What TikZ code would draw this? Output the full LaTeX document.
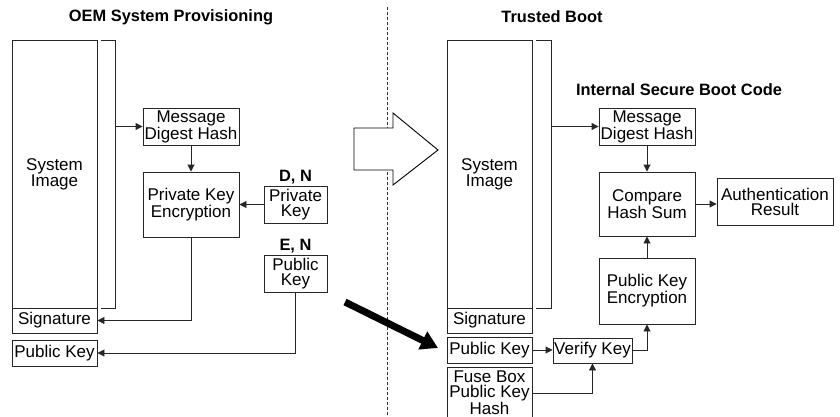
\documentclass[tikz,border=0pt]{standalone}
\usepackage{fontspec}
\setmainfont{Liberation Sans}
\usetikzlibrary{arrows.meta}
\tikzset{
  box/.style={draw=black!85, line width=0.9pt, inner sep=0pt, align=center,
    font=\fontsize{17}{15}\selectfont},
  title/.style={inner sep=0pt, font=\fontsize{16.4}{16}\selectfont\bfseries},
  flow/.style={draw=black!85, line width=0.9pt, -{Triangle[length=7pt,width=7pt]}},
  plain/.style={draw=black!85, line width=0.9pt},
}
\begin{document}
\begin{tikzpicture}[x=1pt, y=-1pt]
\useasboundingbox (0,0) rectangle (840,417);

% divider between the two phases
\draw[black!80, line width=0.8pt, dash pattern=on 3pt off 2pt] (387,7) -- (387,417);

% ---------- OEM system provisioning ----------
\node[title] (titleL) at (171,17) {OEM System Provisioning};
\node[box, minimum width=85pt, minimum height=268pt] (simgL) at (54.5,174) {System\\Image};
\node[box, minimum width=85pt, minimum height=25pt] (sigL) at (54.5,320.5) {Signature};
\node[box, minimum width=85pt, minimum height=26pt] (pkL) at (54.5,353) {Public Key};
\coordinate (brL) at (115,126.5);
\draw[plain] (101,40) -- (115,40) -- (115,308) -- (101,308);
\node[box, minimum width=96pt, minimum height=37pt] (mdhL) at (191,126.5) {Message\\Digest Hash};
\node[box, minimum width=96pt, minimum height=65pt] (pkeL) at (191,204.5) {Private Key\\Encryption};
\node[box, minimum width=63pt, minimum height=37pt] (privL) at (295.5,204.5) {Private\\Key};
\node[title] (dnL) at (295.5,177) {D, N};
\node[box, minimum width=63pt, minimum height=37pt] (pubL) at (295.5,273.5) {Public\\Key};
\node[title] (enL) at (295.5,246) {E, N};

\draw[flow] (brL) -- (mdhL.west);
\draw[flow] (mdhL.south) -- (pkeL.north);
\draw[flow] (privL.west) -- (pkeL.east);
\draw[flow] (pkeL.south) |- (sigL.east);
\draw[flow] (pubL.south) |- (pkL.east);

% hollow transfer arrow
\draw[black, line width=0.9pt, fill=white]
  (354,128) -- (393,128) -- (393,113) -- (438,150) -- (393,185) -- (393,170) -- (354,170) -- cycle;

% public key delivered to the device
\coordinate (kStart) at (345,302);
\coordinate (kEnd) at (438,348);
\draw[black, line width=7pt, -{Triangle[length=17pt,width=19pt]}] (kStart) -- (kEnd);

% ---------- Trusted boot ----------
\node[title] (titleR) at (552,17) {Trusted Boot};
\node[box, minimum width=85pt, minimum height=268pt] (simgR) at (489.5,174) {System\\Image};
\node[box, minimum width=85pt, minimum height=25pt] (sigR) at (489.5,320.5) {Signature};
\node[box, minimum width=85pt, minimum height=26pt] (pkR) at (489.5,350) {Public Key};
\node[box, minimum width=85pt, minimum height=52pt] (fuseR) at (489.5,393) {Fuse Box\\Public Key\\Hash};
\coordinate (brR) at (551,126.5);
\draw[plain] (536,40) -- (551,40) -- (551,308) -- (536,308);

\node[title] (isbc) at (679,90) {Internal Secure Boot Code};
\node[box, minimum width=96pt, minimum height=37pt] (mdhR) at (647,126.5) {Message\\Digest Hash};
\node[box, minimum width=96pt, minimum height=64pt] (cmpR) at (647,204) {Compare\\Hash Sum};
\node[box, minimum width=116pt, minimum height=47pt] (authR) at (775,201.5) {Authentication\\Result};
\node[box, minimum width=96pt, minimum height=66pt] (pkeR) at (647,291) {Public Key\\Encryption};
\node[box, minimum width=79pt, minimum height=25pt] (vkR) at (592.5,350.5) {Verify Key};

\draw[flow] (brR) -- (mdhR.west);
\draw[flow] (mdhR.south) -- (cmpR.north);
\draw[flow] (cmpR.east) -- (cmpR.east -| authR.west);
\draw[flow] (pkeR.north) -- (cmpR.south);
\draw[flow] (pkR.east) -- (pkR.east -| vkR.west);
\draw[flow] (vkR.east) -| (pkeR.south);
\draw[flow] (fuseR.east) -| (vkR.south);
\end{tikzpicture}
\end{document}
